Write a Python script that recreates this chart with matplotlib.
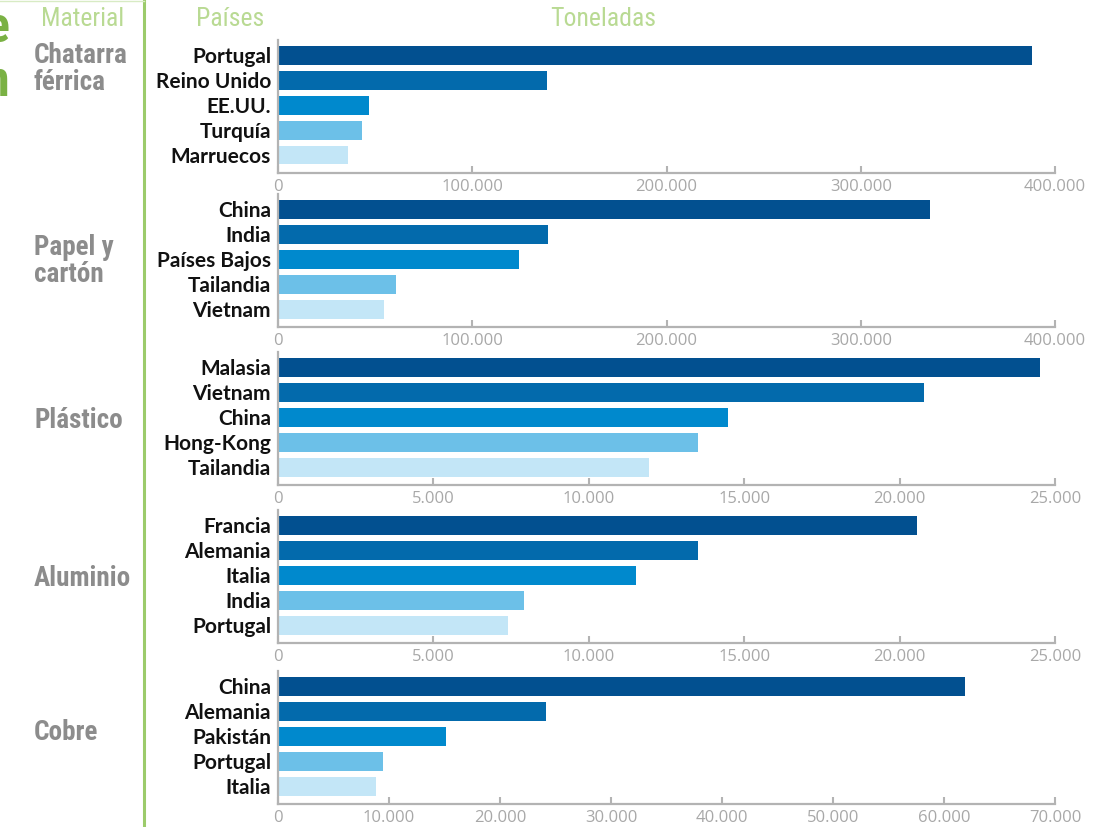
import matplotlib
matplotlib.use("Agg")
import matplotlib.pyplot as plt
from matplotlib import font_manager
from matplotlib.ticker import FuncFormatter, MultipleLocator

# ---------------- data ----------------
materials = ["Chatarra\nférrica", "Papel y\ncartón", "Plástico", "Aluminio", "Cobre"]

countries_chatarra = ["Portugal", "Reino Unido", "EE.UU.", "Turquía", "Marruecos"]
values_chatarra = [388000, 138500, 46800, 43200, 36000]

countries_papel = ["China", "India", "Países Bajos", "Tailandia", "Vietnam"]
values_papel = [335600, 138800, 124000, 60700, 54600]

countries_plastico = ["Malasia", "Vietnam", "China", "Hong-Kong", "Tailandia"]
values_plastico = [24520, 20790, 14480, 13510, 11940]

countries_aluminio = ["Francia", "Alemania", "Italia", "India", "Portugal"]
values_aluminio = [20560, 13510, 11520, 7915, 7400]

countries_cobre = ["China", "Alemania", "Pakistán", "Portugal", "Italia"]
values_cobre = [61900, 24100, 15150, 9470, 8850]

axis_max = [400000, 400000, 25000, 25000, 70000]
axis_step = [100000, 100000, 5000, 5000, 10000]

header_material = "Material"
header_paises = "Países"
header_toneladas = "Toneladas"

# ---------------- fonts ----------------
names = {f.name for f in font_manager.fontManager.ttflist}
narrow = None
for cand in ["Roboto Condensed", "Liberation Sans Narrow", "DejaVu Sans Condensed",
             "Open Sans Condensed", "Noto Sans Condensed", "Arial Narrow"]:
    if cand in names:
        narrow = cand
        break
if narrow is None:
    narrow_font = ["Roboto", "DejaVu Sans"]
    mat_size, head_size = 16, 15.5
else:
    narrow_font = [narrow, "DejaVu Sans"]
    mat_size, head_size = 19.5, 18.5

country_font = ["Lato", "DejaVu Sans"]
tick_font = ["Open Sans", "DejaVu Sans"]

# ---------------- style ----------------
W, H = 1115, 827
bar_colors = ["#025090", "#036AAC", "#0089CD", "#6CC0E8", "#C3E6F7"]
grey_axis = "#B3B3B3"
grey_tick = "#A8A8A8"
grey_mat = "#8C8C8C"
green_head = "#B9DA93"
green_line = "#9CCB6B"
green_title = "#7AB144"

fig = plt.figure(figsize=(W / 100, H / 100), dpi=100)
fig.patch.set_facecolor("white")

def fx(px):
    return px / W

def fy(py):
    return 1 - py / H

panels = [
    (countries_chatarra, values_chatarra),
    (countries_papel, values_papel),
    (countries_plastico, values_plastico),
    (countries_aluminio, values_aluminio),
    (countries_cobre, values_cobre),
]
axis_bottom_px = [173, 327, 485, 643, 804]
mat_center_px = [69, 261, 420, 578, 733]
ax_left, ax_right = 278, 1055
ax_h = 133

fmt = FuncFormatter(lambda v, p: f"{int(v):,}".replace(",", "."))

for i, (cats, vals) in enumerate(panels):
    b = axis_bottom_px[i]
    ax = fig.add_axes([fx(ax_left), fy(b), fx(ax_right - ax_left), ax_h / H])
    ypos = list(range(len(cats)))
    ax.barh(ypos, vals, height=0.76, color=bar_colors, zorder=2)
    ax.set_ylim(4.72, -0.6)
    ax.set_xlim(0, axis_max[i])
    ax.xaxis.set_major_locator(MultipleLocator(axis_step[i]))
    ax.xaxis.set_major_formatter(fmt)
    ax.set_yticks(ypos)
    ax.set_yticklabels(cats)
    for lab in ax.get_yticklabels():
        lab.set_fontfamily(country_font)
        lab.set_fontweight("bold")
        lab.set_fontsize(15)
        lab.set_color("#111111")
    ax.tick_params(axis="y", length=0, pad=5)
    ax.tick_params(axis="x", direction="in", length=5, width=1.5, color=grey_axis,
                   labelcolor=grey_tick, labelsize=12, pad=4)
    for lab in ax.get_xticklabels():
        lab.set_fontfamily(tick_font)
    for s in ["top", "right"]:
        ax.spines[s].set_visible(False)
    for s in ["left", "bottom"]:
        ax.spines[s].set_color(grey_axis)
        ax.spines[s].set_linewidth(1.6)
    ax.set_facecolor("none")

    fig.text(fx(34), fy(mat_center_px[i]), materials[i], ha="left", va="center",
             fontsize=mat_size, fontweight="bold", color=grey_mat, family=narrow_font,
             linespacing=0.98)

# headers
fig.text(fx(83), fy(19), header_material, ha="center", va="center", fontsize=head_size,
         color=green_head, family=narrow_font)
fig.text(fx(230), fy(19), header_paises, ha="center", va="center", fontsize=head_size,
         color=green_head, family=narrow_font)
fig.text(fx(603), fy(19), header_toneladas, ha="center", va="center", fontsize=head_size,
         color=green_head, family=narrow_font)

# green separator and top border
fig.add_artist(plt.Line2D([fx(143.5), fx(143.5)], [0, 1], color=green_line, lw=2.2))
fig.add_artist(plt.Line2D([0, fx(143.5)], [fy(0.5), fy(0.5)], color="#D8EBC4", lw=1))

# cut-off title letters on the left edge
fig.text(fx(9), fy(28), "e", ha="right", va="center", fontsize=36, fontweight="bold",
         color=green_title, family=narrow_font)
fig.text(fx(9), fy(82), "n", ha="right", va="center", fontsize=36, fontweight="bold",
         color=green_title, family=narrow_font)

fig.savefig("out.png", dpi=100, facecolor="white")
